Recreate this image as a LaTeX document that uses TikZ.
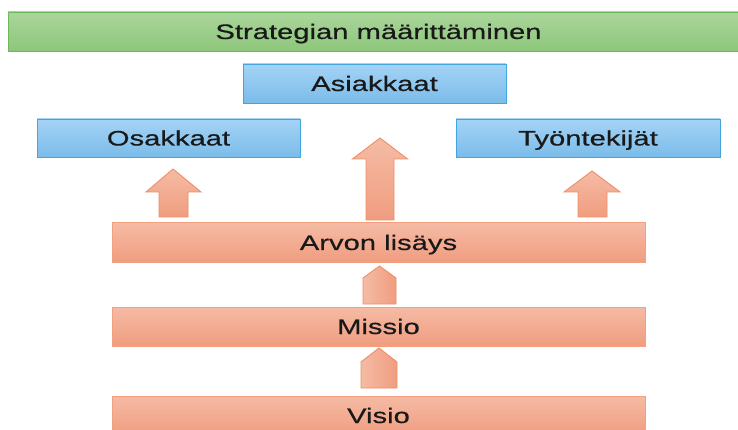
\documentclass[tikz,border=0pt]{standalone}
\usepackage{fontspec}
\setmainfont{Liberation Sans}
\newfontfamily\barfont[FakeStretch=1.39,FakeBold=0.5]{Liberation Sans}
\begin{document}
\begin{tikzpicture}[x=1pt,y=-1pt,
  lbl/.style={font=\barfont\fontsize{21}{25}\selectfont, text=black!90, inner sep=0pt, rectangle, text height=15pt, text depth=0pt},
  greenbar/.style={lbl, top color=green1, bottom color=green2, draw=greenedge, line width=0.9pt},
  bluebox/.style={lbl, top color=blue1, bottom color=blue2, draw=blueedge, line width=0.9pt},
  orangebar/.style={lbl, top color=orange1, bottom color=orange2, draw=orangeedge, line width=1pt},
  uparrow/.style={top color=orange1, bottom color=orange2, draw=arrowedge, line width=0.9pt, line join=miter},
  pentarrow/.style={left color=orange1, right color=orange2, draw=arrowedge, line width=0.9pt, line join=miter}
]
\definecolor{green1}{HTML}{ABD69C}
\definecolor{green2}{HTML}{8DC67A}
\definecolor{greenedge}{HTML}{6DB85A}
\definecolor{blue1}{HTML}{A4D3F5}
\definecolor{blue2}{HTML}{7BBCEA}
\definecolor{blueedge}{HTML}{41A5E0}
\definecolor{orange1}{HTML}{F5BBA5}
\definecolor{orange2}{HTML}{F09D7F}
\definecolor{orangeedge}{HTML}{F1A080}
\definecolor{arrowedge}{HTML}{EF8E65}

\useasboundingbox[fill=white] (0,0) rectangle (738,430);

% top band and the three stakeholder boxes
\node[greenbar, minimum width=741, minimum height=39] (strat) at (378.5,31.5) {Strategian määrittäminen};
\node[bluebox, minimum width=263, minimum height=39] (asiak) at (374.5,83.5) {Asiakkaat};
\node[bluebox, minimum width=263, minimum height=38] (osak) at (168.5,138) {Osakkaat};
\node[bluebox, minimum width=264, minimum height=38] (tyon) at (588,138) {Työntekijät};

% foundation layers
\node[orangebar, minimum width=533, minimum height=39] (arvo) at (378.5,242.5) {Arvon lisäys};
\node[orangebar, minimum width=533, minimum height=39] (missio) at (378.5,326.5) {Missio};
\node[orangebar, minimum width=533, minimum height=39] (visio) at (378.5,415.5) {Visio};

% block arrows from the value layer up to the stakeholders
\draw[uparrow] (159,217) -- (159,192) -- (146,192) -- (173,169) -- (201,192) -- (188,192) -- (188,217) -- cycle;
\draw[uparrow] (366,220) -- (366,159) -- (352.5,159) -- (380,138) -- (407.5,159) -- (394,159) -- (394,220) -- cycle;
\draw[uparrow] (578,217) -- (578,192) -- (564,192) -- (592,171) -- (620,192) -- (607,192) -- (607,217) -- cycle;

% pentagon arrows between the layers
\draw[pentarrow] (363,304) -- (363,278) -- (379.5,266) -- (396,278) -- (396,304) -- cycle;
\draw[pentarrow] (361,388) -- (361,362) -- (379,348) -- (397,362) -- (397,388) -- cycle;
\end{tikzpicture}
\end{document}
